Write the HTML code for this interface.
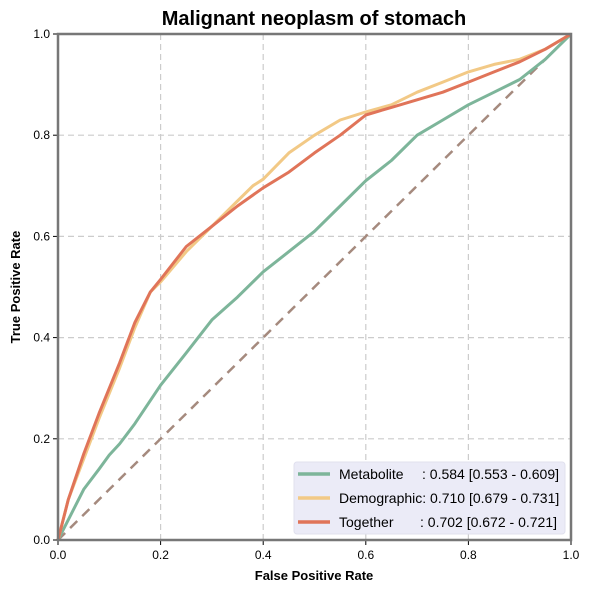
<!DOCTYPE html>
<html><head><meta charset="utf-8"><style>
body{margin:0;background:#fff;font-family:"Liberation Sans",Arial,sans-serif}
svg text{font-family:"Liberation Sans",Arial,sans-serif}
</style></head><body>
<svg id="chart" width="591" height="592" xmlns="http://www.w3.org/2000/svg">
<rect width="591" height="592" fill="#fff"/>
<text x="314" y="25" text-anchor="middle" font-size="20" font-weight="bold">Malignant neoplasm of stomach</text>
<g id="grid"></g><g id="series"></g><g id="axes"></g>
<text x="314" y="580" text-anchor="middle" font-size="13" font-weight="bold">False Positive Rate</text>
<text transform="translate(20,287) rotate(-90)" text-anchor="middle" font-size="13" font-weight="bold">True Positive Rate</text>
<g id="legend"></g>
</svg>
<script>
const ticks=[0,0.2,0.4,0.6,0.8,1.0];
const tickLabels=["0.0","0.2","0.4","0.6","0.8","1.0"];
const names=["Metabolite","Demographic","Together"];
const legendName=["Metabolite","Demographic","Together"];
const legendValue=[": 0.584 [0.553 - 0.609]",": 0.710 [0.679 - 0.731]",": 0.702 [0.672 - 0.721]"];
const colors=["#7db59a","#f2c986","#e07459"];
const metFpr=[0,0.02,0.05,0.08,0.1,0.12,0.15,0.2,0.25,0.3,0.35,0.4,0.45,0.5,0.55,0.6,0.65,0.7,0.75,0.8,0.85,0.9,0.95,1];
const metTpr=[0,0.04,0.1,0.14,0.168,0.19,0.23,0.306,0.37,0.435,0.48,0.53,0.57,0.61,0.66,0.71,0.75,0.8,0.83,0.86,0.885,0.91,0.95,1];
const demFpr=[0,0.02,0.05,0.08,0.1,0.12,0.15,0.18,0.2,0.25,0.3,0.35,0.38,0.4,0.45,0.5,0.55,0.6,0.65,0.7,0.75,0.8,0.85,0.9,0.95,1];
const demTpr=[0,0.08,0.16,0.24,0.29,0.34,0.42,0.49,0.51,0.57,0.62,0.67,0.7,0.713,0.765,0.8,0.83,0.846,0.86,0.885,0.905,0.925,0.94,0.95,0.97,1];
const togFpr=[0,0.02,0.05,0.08,0.1,0.12,0.15,0.18,0.2,0.25,0.3,0.35,0.4,0.45,0.5,0.55,0.6,0.65,0.7,0.75,0.8,0.85,0.9,0.95,1];
const togTpr=[0,0.08,0.17,0.25,0.3,0.35,0.43,0.49,0.515,0.58,0.62,0.66,0.696,0.727,0.765,0.8,0.84,0.855,0.87,0.885,0.905,0.925,0.945,0.97,1];
const L=58,R=571,T=34,B=540;
const sx=v=>L+v*(R-L), sy=v=>B-v*(B-T);
const NS="http://www.w3.org/2000/svg";
function mk(tag,attrs,parent){const e=document.createElementNS(NS,tag);for(const k in attrs)e.setAttribute(k,attrs[k]);parent.appendChild(e);return e;}
const grid=document.getElementById('grid'),axes=document.getElementById('axes'),ser=document.getElementById('series'),leg=document.getElementById('legend');
ticks.forEach((t,i)=>{
  if(t>0&&t<1){
    let g1=mk('line',{x1:sx(t),x2:sx(t),y1:T,y2:B,stroke:'#ccc','stroke-dasharray':'6,4','stroke-width':1.2},grid);
    
    let g2=mk('line',{x1:L,x2:R,y1:sy(t),y2:sy(t),stroke:'#ccc','stroke-dasharray':'6,4','stroke-width':1.2},grid);
    
  }
  let xt=mk('line',{x1:sx(t),x2:sx(t),y1:B,y2:B+5,stroke:'#000'},axes);
  
  let xl=mk('text',{x:sx(t),y:B+19,'text-anchor':'middle','font-size':12},axes);xl.textContent=tickLabels[i];
  
  let yt=mk('line',{x1:L-5,x2:L,y1:sy(t),y2:sy(t),stroke:'#000'},axes);
  
  let yl=mk('text',{x:L-8,y:sy(t)+4,'text-anchor':'end','font-size':12},axes);yl.textContent=tickLabels[i];
  
});
let diag=mk('line',{x1:sx(0),y1:sy(0),x2:sx(1),y2:sy(1),stroke:'#a58a7e','stroke-width':2.5,'stroke-dasharray':'10,7'},ser);

const xs=[metFpr,demFpr,togFpr],ys=[metTpr,demTpr,togTpr];
[0,1,2].forEach(k=>{
  let p=mk('path',{d:xs[k].map((v,i)=>(i?'L':'M')+sx(v).toFixed(1)+','+sy(ys[k][i]).toFixed(1)).join(''),fill:'none',stroke:colors[k],'stroke-width':3,'stroke-linejoin':'round'},ser);
  
});
let fr=mk('rect',{x:L,y:T,width:R-L,height:B-T,fill:'none',stroke:'#777','stroke-width':2.5},axes);

let lb=mk('rect',{x:294,y:462,width:271,height:72,rx:3,fill:'#ebebf7',stroke:'#e0e0ee'},leg);

const valX=[422,0,420];
[0,1,2].forEach(k=>{
  const y=474+k*24;
  let l=mk('line',{x1:298,x2:330,y1:y,y2:y,stroke:colors[k],'stroke-width':3.5},leg);
  
  let t=mk('text',{x:339,y:y+5,'font-size':14},leg);t.textContent=legendName[k];
  
  let v=mk('text',{x:valX[k],y:y+5,'font-size':14},leg);v.textContent=legendValue[k];
  
  if(k===1){v.setAttribute('x',339+t.getComputedTextLength());}
});
</script>
</body></html>
